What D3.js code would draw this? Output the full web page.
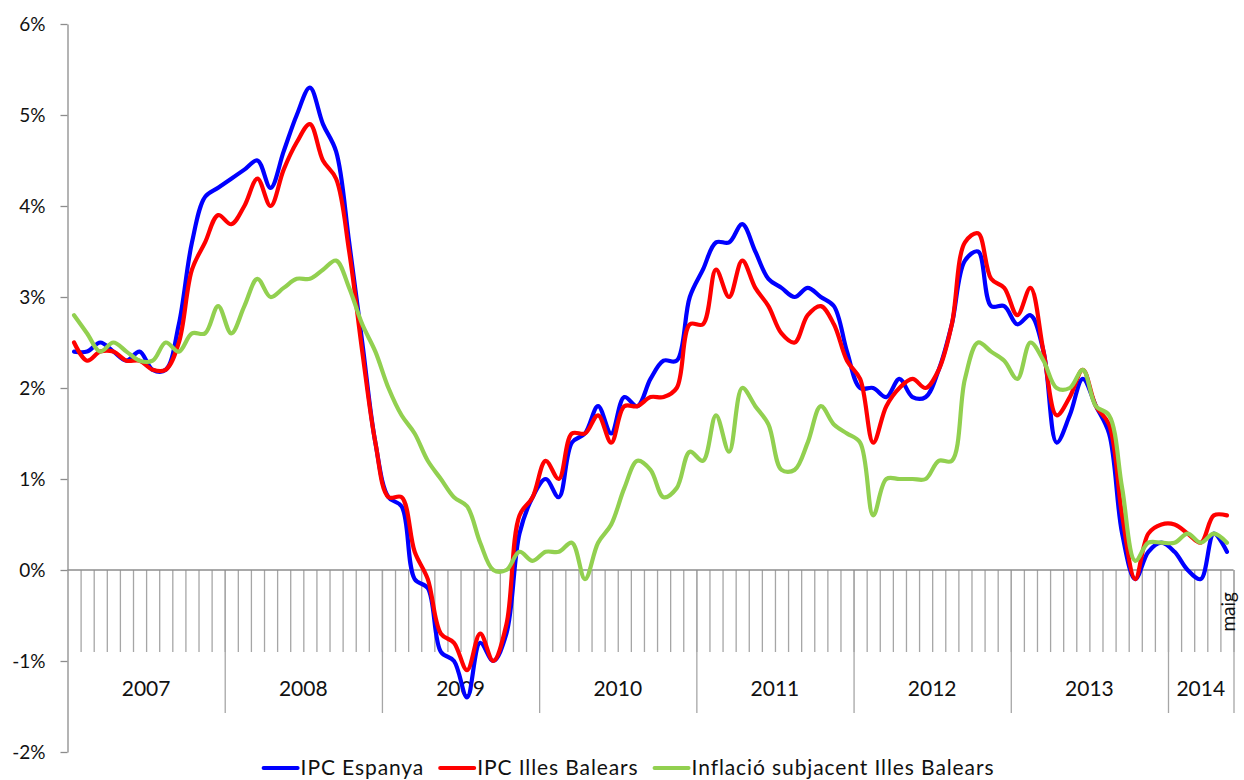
<!DOCTYPE html>
<html>
<head>
<meta charset="utf-8">
<script src="https://cdn.jsdelivr.net/npm/d3@7"></script>
<style>
  html, body { margin: 0; padding: 0; background: #fff; }
  svg { display: block; }
  text { font-family: Lato, "Open Sans", sans-serif; fill: #111; }
</style>
</head>
<body>
<svg id="chart" width="1244" height="780"></svg>
<script>
// monthly, Jan 2007 .. May 2014 (89 months), year-on-year %
const years = ['2007', '2008', '2009', '2010', '2011', '2012', '2013', '2014'];
const lastMonthLabel = 'maig';
const yTicks = [-2, -1, 0, 1, 2, 3, 4, 5, 6];

const ipcEspanya = [
  2.4, 2.4, 2.5, 2.4, 2.3, 2.4, 2.2, 2.2, 2.7, 3.6, 4.1, 4.2,
  4.3, 4.4, 4.5, 4.2, 4.6, 5.0, 5.3, 4.9, 4.6, 3.6, 2.5, 1.4,
  0.8, 0.7, -0.1, -0.2, -0.9, -1.0, -1.4, -0.8, -1.0, -0.7, 0.4, 0.8,
  1.0, 0.8, 1.4, 1.5, 1.8, 1.5, 1.9, 1.8, 2.1, 2.3, 2.3, 3.0,
  3.3, 3.6, 3.6, 3.8, 3.5, 3.2, 3.1, 3.0, 3.1, 3.0, 2.9, 2.4,
  2.0, 2.0, 1.9, 2.1, 1.9, 1.9, 2.2, 2.7, 3.4, 3.5, 2.9, 2.9,
  2.7, 2.8, 2.4, 1.4, 1.7, 2.1, 1.8, 1.5, 0.4, -0.1, 0.2, 0.3,
  0.2, 0.0, -0.1, 0.4, 0.2
];
const ipcBalears = [
  2.5, 2.3, 2.4, 2.4, 2.3, 2.3, 2.2, 2.2, 2.5, 3.3, 3.6, 3.9,
  3.8, 4.0, 4.3, 4.0, 4.4, 4.7, 4.9, 4.5, 4.3, 3.5, 2.4, 1.4,
  0.8, 0.8, 0.2, -0.1, -0.7, -0.8, -1.1, -0.7, -1.0, -0.6, 0.6, 0.8,
  1.2, 1.0, 1.5, 1.5, 1.7, 1.4, 1.8, 1.8, 1.9, 1.9, 2.0, 2.7,
  2.7, 3.3, 3.0, 3.4, 3.1, 2.9, 2.6, 2.5, 2.8, 2.9, 2.7, 2.3,
  2.1, 1.4, 1.8, 2.0, 2.1, 2.0, 2.2, 2.7, 3.6, 3.7, 3.2, 3.1,
  2.8, 3.1, 2.4, 1.7, 1.9, 2.2, 1.8, 1.6, 0.6, -0.1, 0.4, 0.5,
  0.5, 0.4, 0.3, 0.6, 0.6
];
const subjacentBalears = [
  2.8, 2.6, 2.4, 2.5, 2.4, 2.3, 2.3, 2.5, 2.4, 2.6, 2.6, 2.9,
  2.6, 2.9, 3.2, 3.0, 3.1, 3.2, 3.2, 3.3, 3.4, 3.1, 2.7, 2.4,
  2.0, 1.7, 1.5, 1.2, 1.0, 0.8, 0.7, 0.3, 0.0, 0.0, 0.2, 0.1,
  0.2, 0.2, 0.3, -0.1, 0.3, 0.5, 0.9, 1.2, 1.1, 0.8, 0.9, 1.3,
  1.2, 1.7, 1.3, 2.0, 1.8, 1.6, 1.1, 1.1, 1.4, 1.8, 1.6, 1.5,
  1.4, 0.6, 1.0, 1.0, 1.0, 1.0, 1.2, 1.2, 2.1, 2.5, 2.4, 2.3,
  2.1, 2.5, 2.3, 2.0, 2.0, 2.2, 1.8, 1.7, 0.9, 0.1, 0.3, 0.3,
  0.3, 0.4, 0.3, 0.4, 0.3
];

const seriesNames = ['IPC Espanya', 'IPC Illes Balears', 'Inflació subjacent Illes Balears'];
const seriesColors = ['#0000ff', '#ff0000', '#92d050'];
const seriesValues = [ipcEspanya, ipcBalears, subjacentBalears];

const nMonths = ipcEspanya.length;
const svg = d3.select('#chart');

// scales
const x = d3.scaleLinear().domain([0, nMonths]).range([67.5, 1233.5]);
const y = d3.scaleLinear().domain([-2, 6]).range([752, 24]);
const axisColor = '#8c8c8c';

// y axis
const yAxis = svg.append('g')
  .attr('transform', `translate(${x(0)},0)`)
  .call(d3.axisLeft(y).tickValues(yTicks).tickSize(7).tickSizeOuter(0).tickPadding(15)
    .tickFormat(d => d + '%'));
yAxis.select('.domain').attr('stroke', axisColor).attr('stroke-width', 1.3);
yAxis.selectAll('.tick line').attr('stroke', axisColor).attr('stroke-width', 1.3);
yAxis.selectAll('.tick text').attr('font-size', 19).attr('font-family', 'Lato, sans-serif').attr('fill', '#111');

// month ticks hanging below the zero line
const monthAxis = svg.append('g')
  .attr('transform', `translate(0,${y(0)})`)
  .call(d3.axisBottom(x).tickValues(d3.range(1, nMonths + 1)).tickSize(82).tickFormat(''));
monthAxis.select('.domain').remove();
monthAxis.selectAll('.tick line').attr('stroke', '#a6a6a6').attr('stroke-width', 1.3);

// year separators
const yearBounds = d3.range(12, nMonths, 12).concat([nMonths]);
const yearAxis = svg.append('g')
  .attr('transform', `translate(0,${y(0)})`)
  .call(d3.axisBottom(x).tickValues(yearBounds).tickSize(143).tickFormat(''));
yearAxis.select('.domain').remove();
yearAxis.selectAll('.tick line').attr('stroke', '#a6a6a6').attr('stroke-width', 1.3);

// zero line
svg.append('line')
  .attr('x1', x(0)).attr('x2', x(nMonths))
  .attr('y1', y(0)).attr('y2', y(0))
  .attr('stroke', axisColor).attr('stroke-width', 1.3);

// year labels, centred in each year span
svg.append('g').selectAll('text')
  .data(years)
  .join('text')
  .attr('x', (d, i) => x((i * 12 + Math.min(nMonths, i * 12 + 12)) / 2))
  .attr('y', 696)
  .attr('text-anchor', 'middle')
  .attr('font-size', 21)
  .text(d => d);

// last month label, rotated
svg.append('text')
  .attr('transform', `translate(${x(nMonths - 0.5) + 1},592) rotate(-90)`)
  .attr('text-anchor', 'end')
  .attr('dominant-baseline', 'central')
  .attr('font-size', 19)
  .text(lastMonthLabel);

// lines
const line = d3.line()
  .x((d, i) => x(i + 0.5))
  .y(d => y(d))
  .curve(d3.curveCatmullRom.alpha(0.5));

svg.append('g').selectAll('path')
  .data(seriesValues)
  .join('path')
  .attr('d', d => line(d))
  .attr('fill', 'none')
  .attr('stroke', (d, i) => seriesColors[i])
  .attr('stroke-width', 4.2)
  .attr('stroke-linejoin', 'round')
  .attr('stroke-linecap', 'round');

// legend: sample line + label, laid out left to right, then centred
const legend = svg.append('g').attr('class', 'legend');
let lx = 0;
seriesNames.forEach((name, i) => {
  const g = legend.append('g').attr('transform', `translate(${lx},0)`);
  g.append('line')
    .attr('x1', 2).attr('x2', 36).attr('y1', -6.5).attr('y2', -6.5)
    .attr('stroke', seriesColors[i]).attr('stroke-width', 4).attr('stroke-linecap', 'round');
  const t = g.append('text')
    .attr('x', 39).attr('y', 0)
    .attr('font-size', 21)
    .attr('letter-spacing', 0.9)
    .text(name);
  lx += 39 + t.node().getComputedTextLength() + 14;
});
legend.attr('transform', `translate(${628 - (lx - 14) / 2},774.5)`);
</script>
</body>
</html>
